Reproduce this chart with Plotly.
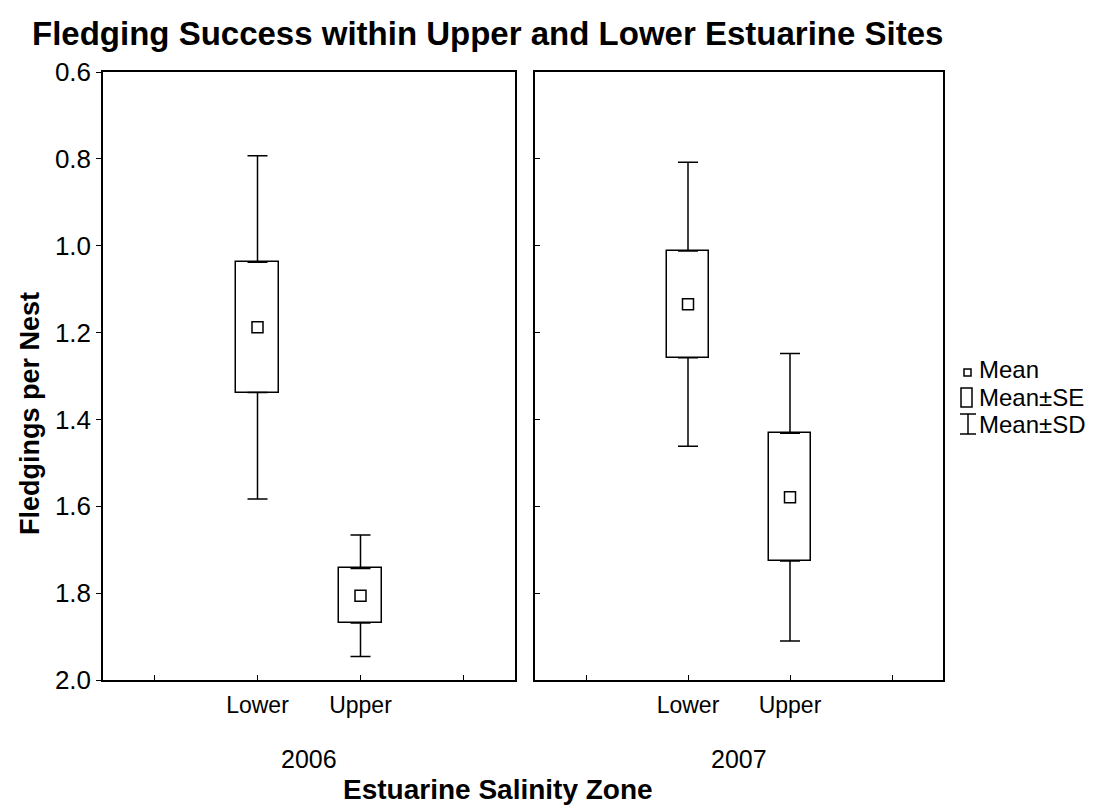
import plotly.graph_objects as go

# Fledglings per nest: mean, standard error and standard deviation per zone
zones = ["Lower", "Upper"]
years = ["2006", "2007"]
mean_2006 = [1.188, 1.806]
se_2006 = [0.150, 0.063]
sd_2006 = [0.395, 0.140]
mean_2007 = [1.135, 1.579]
se_2007 = [0.123, 0.147]
sd_2007 = [0.327, 0.331]

# blank slots either side of the two zones (tick marks only)
x_categories = [" ", "Lower", "Upper", "  "]
y_ticks = [0.6, 0.8, 1.0, 1.2, 1.4, 1.6, 1.8, 2.0]

OFF = 8                      # page margin the browser puts round the plot
W, H = 1096 - OFF, 806 - OFF
L, R, T, B = 103, 943, 72, 680   # plot area, in screenshot pixels
FONT = "Arial, Liberation Sans, sans-serif"


def px(x):
    return (x - L) / (R - L)


def py(y):
    return (B - y) / (B - T)


fig = go.Figure()

panels = [("x", "y", mean_2006, se_2006, sd_2006),
          ("x2", "y2", mean_2007, se_2007, sd_2007)]

for xa, ya, mean, se, sd in panels:
    lo = [m - s for m, s in zip(mean, se)]
    hi = [m + s for m, s in zip(mean, se)]
    # Mean±SE box
    fig.add_trace(go.Bar(
        x=zones, y=[2 * s for s in se], base=lo, width=0.41,
        marker=dict(color="white", line=dict(color="black", width=1.5)),
        xaxis=xa, yaxis=ya, showlegend=False, hoverinfo="skip"))
    # Mean±SD whiskers, drawn outside the box only
    fig.add_trace(go.Scatter(
        x=zones, y=lo, mode="markers", marker=dict(size=1, opacity=0),
        error_y=dict(type="data", symmetric=False, array=[0, 0],
                     arrayminus=[d - s for d, s in zip(sd, se)],
                     width=10, thickness=1.5, color="black"),
        xaxis=xa, yaxis=ya, showlegend=False, hoverinfo="skip"))
    fig.add_trace(go.Scatter(
        x=zones, y=hi, mode="markers", marker=dict(size=1, opacity=0),
        error_y=dict(type="data", symmetric=False, arrayminus=[0, 0],
                     array=[d - s for d, s in zip(sd, se)],
                     width=10, thickness=1.5, color="black"),
        xaxis=xa, yaxis=ya, showlegend=False, hoverinfo="skip"))
    # Mean
    fig.add_trace(go.Scatter(
        x=zones, y=mean, mode="markers",
        marker=dict(symbol="square-open", size=11, color="black",
                    line=dict(color="black", width=1.5)),
        xaxis=xa, yaxis=ya, showlegend=False))

xaxis_common = dict(
    type="category", categoryorder="array", categoryarray=x_categories,
    range=[-0.5, 3.5], showline=True, mirror=True, linecolor="black",
    linewidth=1.5, ticks="inside", ticklen=5, tickcolor="black",
    showgrid=False, zeroline=False, ticklabelstandoff=4,
    tickfont=dict(family=FONT, size=23, color="black"))
yaxis_common = dict(
    range=[2.0, 0.6], tickvals=y_ticks, tickformat=".1f", showline=True,
    mirror=True, linecolor="black", linewidth=1.5, tickcolor="black",
    ticklen=5, showgrid=False, zeroline=False,
    tickfont=dict(family=FONT, size=26, color="black"))

fig.update_layout(
    xaxis=dict(xaxis_common, domain=[0, px(515)], anchor="y"),
    xaxis2=dict(xaxis_common, domain=[px(535), 1], anchor="y2"),
    yaxis=dict(yaxis_common, ticks="outside", anchor="x"),
    yaxis2=dict(yaxis_common, ticks="inside", showticklabels=False,
                anchor="x2", matches="y"),
)

annotations = [
    dict(text="<b>Fledgings per Nest</b>", x=px(30), y=py(414), textangle=-90,
         font=dict(family=FONT, size=27, color="black")),
    dict(text="<b>Estuarine Salinity Zone</b>", x=px(498), y=py(789),
         font=dict(family=FONT, size=28, color="black")),
    dict(text=years[0], x=px(309), y=py(759),
         font=dict(family=FONT, size=25, color="black")),
    dict(text=years[1], x=px(739), y=py(759),
         font=dict(family=FONT, size=25, color="black")),
]
for label, yc in [("Mean", 369), ("Mean±SE", 397), ("Mean±SD", 424)]:
    annotations.append(dict(text=label, x=px(977), y=py(yc), xanchor="left",
                            font=dict(family=FONT, size=24, color="black")))
for a in annotations:
    a.setdefault("xref", "paper")
    a.setdefault("yref", "paper")
    a.setdefault("showarrow", False)
    a.setdefault("xanchor", "center")
    a.setdefault("yanchor", "middle")

# legend glyphs
line = dict(color="black", width=1.5)
shapes = [
    dict(type="rect", x0=px(964), x1=px(971), y0=py(369), y1=py(376), line=line),
    dict(type="rect", x0=px(961), x1=px(972), y0=py(388), y1=py(407), line=line),
    dict(type="line", x0=px(968), x1=px(968), y0=py(414), y1=py(434), line=line),
    dict(type="line", x0=px(960), x1=px(976), y0=py(414), y1=py(414), line=line),
    dict(type="line", x0=px(960), x1=px(976), y0=py(434), y1=py(434), line=line),
]
for s in shapes:
    s["xref"] = "paper"
    s["yref"] = "paper"

fig.update_layout(
    width=W, height=H,
    margin=dict(l=L - OFF, r=W - (R - OFF), t=T - OFF, b=H - (B - OFF)),
    title=dict(text="<b>Fledging Success within Upper and Lower Estuarine Sites</b>",
               x=(32 - OFF) / W, xanchor="left", y=1 - (33 - OFF) / H,
               yanchor="middle",
               font=dict(family=FONT, size=33, color="black")),
    annotations=annotations, shapes=shapes,
    plot_bgcolor="white", paper_bgcolor="white",
    showlegend=False, bargap=0,
)

fig.write_html("out.html")
